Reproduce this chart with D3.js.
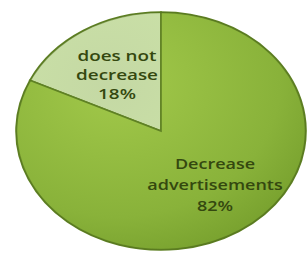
<!DOCTYPE html>
<html>
<head>
<meta charset="utf-8">
<script src="https://cdn.jsdelivr.net/npm/d3@7"></script>
<style>
  html, body { margin: 0; padding: 0; background: #fff; }
  svg { display: block; }
</style>
</head>
<body>
<svg id="chart" width="308" height="253"></svg>
<script>
// data
const labels = ['does not decrease', 'Decrease advertisements'];
const values = [18, 82];
const labelLines = [['does not', 'decrease', '18%'], ['Decrease', 'advertisements', '82%']];

const width = 308, height = 253;
const cx = 161, cy = 131, rx = 145, ry = 119;
const r = 100;

const svg = d3.select('#chart');
const defs = svg.append('defs');

// shading for the two slices
const gBig = defs.append('radialGradient').attr('id', 'gBig')
    .attr('cx', '35%').attr('cy', '30%').attr('r', '80%');
gBig.append('stop').attr('offset', '0%').attr('stop-color', '#a2c94a');
gBig.append('stop').attr('offset', '70%').attr('stop-color', '#89b23a');
gBig.append('stop').attr('offset', '100%').attr('stop-color', '#759e2c');

const gSmall = defs.append('radialGradient').attr('id', 'gSmall')
    .attr('cx', '60%').attr('cy', '60%').attr('r', '70%');
gSmall.append('stop').attr('offset', '0%').attr('stop-color', '#c4d8a4');
gSmall.append('stop').attr('offset', '100%').attr('stop-color', '#c9dfa6');

const fills = ['url(#gSmall)', 'url(#gBig)'];

// pie drawn in a unit circle and stretched to an ellipse
const pie = d3.pie().sort(null).startAngle(0).endAngle(-2 * Math.PI);
const arcs = pie(values);
const arc = d3.arc().innerRadius(0).outerRadius(r);

const g = svg.append('g')
    .attr('transform', `translate(${cx},${cy}) scale(${rx / r},${ry / r})`);

g.selectAll('path.slice')
    .data(arcs)
    .enter()
    .append('path')
    .attr('class', 'slice')
    .attr('d', arc)
    .attr('fill', (d, i) => fills[i])
    .attr('stroke', '#5f8124')
    .attr('stroke-width', 1.6)
    .attr('vector-effect', 'non-scaling-stroke');

// darker rim
g.append('ellipse')
    .attr('rx', r - 0.5).attr('ry', r - 0.5)
    .attr('fill', 'none')
    .attr('stroke', '#4f6e1c')
    .attr('stroke-opacity', 0.5)
    .attr('stroke-width', 1.2)
    .attr('vector-effect', 'non-scaling-stroke');

// labels (the source picture is stretched sideways, so the text is too)
const labelPos = [
  { x: 117, y: 56, size: 14.5, gap: 19, sx: 1.3 },
  { x: 215, y: 164, size: 15, gap: 21, sx: 1.2 }
];

labelLines.forEach((lines, i) => {
  const p = labelPos[i];
  svg.append('g')
      .attr('transform', `translate(${p.x},${p.y}) scale(${p.sx},1)`)
      .append('text')
      .attr('text-anchor', 'middle')
      .attr('fill', '#34480f')
      .style('font-family', 'Open Sans, sans-serif')
      .style('font-weight', 600)
      .style('font-size', p.size + 'px')
      .selectAll('tspan')
      .data(lines)
      .enter()
      .append('tspan')
      .attr('x', 0)
      .attr('dy', (d, j) => j === 0 ? '0.35em' : p.gap)
      .text(d => d);
});
</script>
</body>
</html>
